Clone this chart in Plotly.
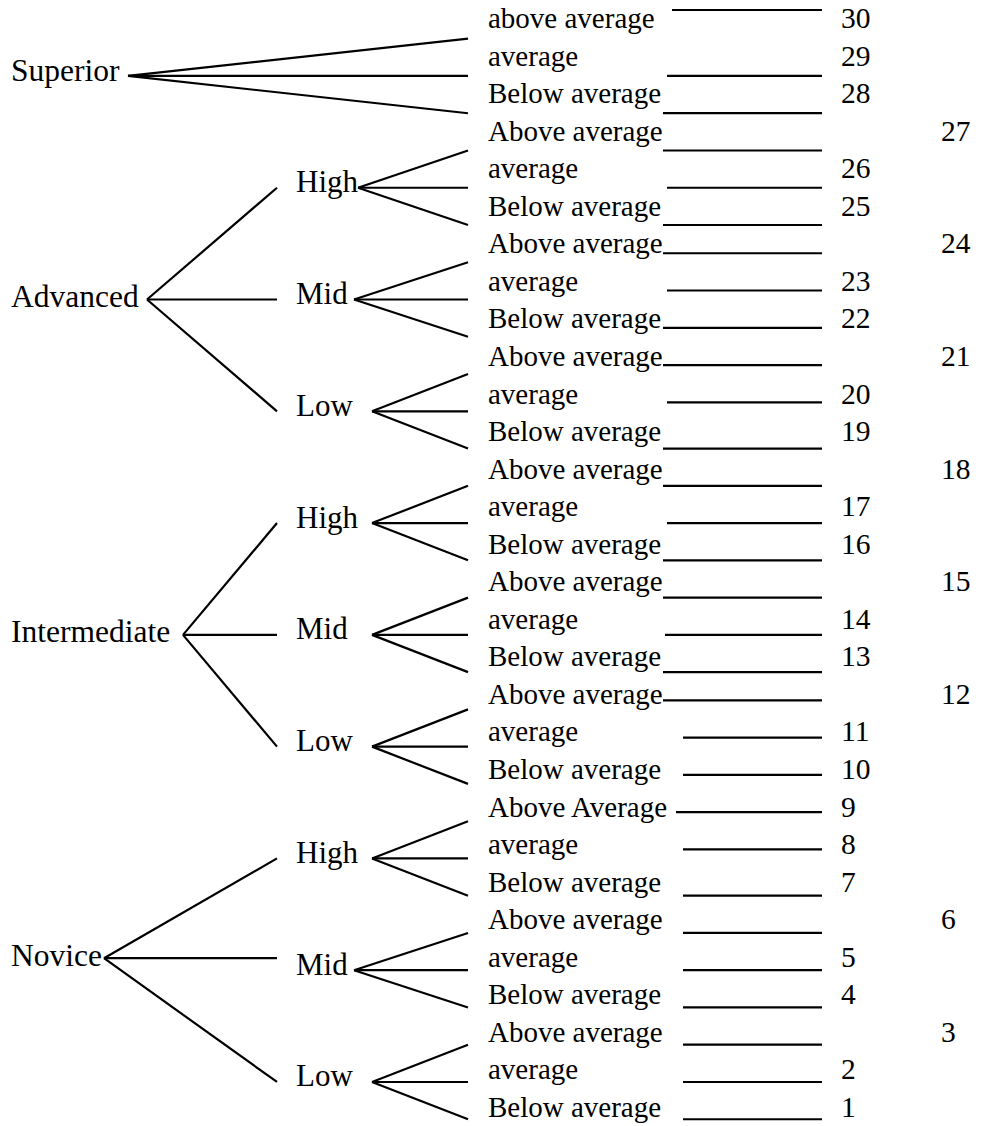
import plotly.graph_objects as go

# ---------------- data ----------------
roots = ["Superior", "Advanced", "Intermediate", "Novice"]
root_has_levels = [False, True, True, True]
sublevels = ["High", "Mid", "Low"]

leaf_labels = [
    "above average", "average", "Below average",            # Superior
    "Above average", "average", "Below average",            # Advanced High
    "Above average", "average", "Below average",            # Advanced Mid
    "Above average", "average", "Below average",            # Advanced Low
    "Above average", "average", "Below average",            # Intermediate High
    "Above average", "average", "Below average",            # Intermediate Mid
    "Above average", "average", "Below average",            # Intermediate Low
    "Above Average", "average", "Below average",            # Novice High
    "Above average", "average", "Below average",            # Novice Mid
    "Above average", "average", "Below average",            # Novice Low
]
scores = [30, 29, 28, 27, 26, 25, 24, 23, 22, 21, 20, 19, 18, 17, 16,
          15, 14, 13, 12, 11, 10, 9, 8, 7, 6, 5, 4, 3, 2, 1]

# ---------------- layout / style ----------------
W, H = 1001, 1126
FONT = "Liberation Serif, Times New Roman, serif"
FS_ROOT, FS_SUB, FS_LEAF, FS_NUM = 31.5, 31, 29, 29.5
LW = 2.2
TEXT_Y0, TEXT_PITCH = 18.0, 37.55
LINE_Y0, LINE_PITCH = 38.7, 37.26

def text_y(r):
    return TEXT_Y0 + TEXT_PITCH * r

def line_y(r):
    return LINE_Y0 + LINE_PITCH * r

ROOT_TEXT_X = 10
ROOT_ORIGIN_X = {"Superior": 128, "Advanced": 147, "Intermediate": 183, "Novice": 104}
ROOT_DY = {"Novice": -12}
SUB_END_X = 277
SUB_TEXT_X = 295
SUB_ORIGIN_X = {("Advanced", "High"): 358, ("Advanced", "Mid"): 354,
                ("Novice", "Mid"): 354}
SUB_ORIGIN_DEFAULT = 372
LEAF_END_X = 468
LEAF_TEXT_X = 487
CONN_END_X = 822
NEAR_X, FAR_X = 840, 940

# per-row connector style: start x and vertical placement
conn_start = [672, 667, 663, 663, 667, 663, 663, 667, 663, 663,
              667, 663, 663, 667, 663, 663, 665, 663, 663, 683,
              683, 676, 683, 683, 683, 683, 683, 683, 683, 683]
conn_style = ["top", "low", "low", "low", "low", "low", "mid", "mid", "mid", "mid",
              "mid", "low", "low", "low", "low", "low", "low", "low", "mid", "mid",
              "mid", "mid", "mid", "low", "low", "low", "low", "low", "low", "low"]
score_col = ["n", "n", "n", "f", "n", "n", "f", "n", "n", "f",
             "n", "n", "f", "n", "n", "f", "n", "n", "f", "n",
             "n", "n", "n", "n", "f", "n", "n", "f", "n", "n"]

# ---------------- build ----------------
bx, by = [], []      # branch lines
cx, cy = [], []      # connector lines
annotations = []

def add_text(x, y, s, size):
    annotations.append(dict(x=x, y=y, xref="x", yref="y", text=s, showarrow=False,
                            xanchor="left", yanchor="middle", borderpad=0,
                            font=dict(family=FONT, size=size, color="black")))

def seg(xs, ys, a, b):
    xs.extend([a[0], b[0], None])
    ys.extend([a[1], b[1], None])

row = 0
for root, has in zip(roots, root_has_levels):
    ox = ROOT_ORIGIN_X[root]
    if not has:
        oy = line_y(row + 1)
        add_text(ROOT_TEXT_X, oy - 5, root, FS_ROOT)
        for k in range(3):
            seg(bx, by, (ox, oy), (LEAF_END_X, line_y(row + k)))
        row += 3
        continue
    oy = line_y(row + 4) + ROOT_DY.get(root, 0)
    add_text(ROOT_TEXT_X, oy - 3, root, FS_ROOT)
    for lv in sublevels:
        ny = line_y(row + 1)
        end_y = oy if lv == "Mid" else ny
        seg(bx, by, (ox, oy), (SUB_END_X, end_y))
        add_text(SUB_TEXT_X, ny - 6, lv, FS_SUB)
        sx = SUB_ORIGIN_X.get((root, lv), SUB_ORIGIN_DEFAULT)
        for k in range(3):
            seg(bx, by, (sx, ny), (LEAF_END_X, line_y(row + k)))
        row += 3

for r, (lab, sc) in enumerate(zip(leaf_labels, scores)):
    add_text(LEAF_TEXT_X, text_y(r), lab, FS_LEAF)
    st = conn_style[r]
    if st == "low":
        yy = line_y(r)
    elif st == "mid":
        yy = line_y(r) - 9
    else:
        yy = text_y(r) - 8
    seg(cx, cy, (conn_start[r], yy), (CONN_END_X, yy))
    add_text(NEAR_X if score_col[r] == "n" else FAR_X, text_y(r), str(sc), FS_NUM)

fig = go.Figure()
fig.add_trace(go.Scatter(x=bx, y=by, mode="lines", line=dict(color="black", width=LW),
                         hoverinfo="skip"))
fig.add_trace(go.Scatter(x=cx, y=cy, mode="lines", line=dict(color="black", width=LW),
                         hoverinfo="skip"))
fig.update_layout(
    width=W, height=H, margin=dict(l=0, r=0, t=0, b=0),
    paper_bgcolor="white", plot_bgcolor="white", showlegend=False,
    xaxis=dict(range=[0, W], visible=False, fixedrange=True),
    yaxis=dict(range=[H, 0], visible=False, fixedrange=True),
    annotations=annotations,
)
fig.write_html("out.html", config={"displayModeBar": False},
               post_script="document.body.style.margin='0';")
